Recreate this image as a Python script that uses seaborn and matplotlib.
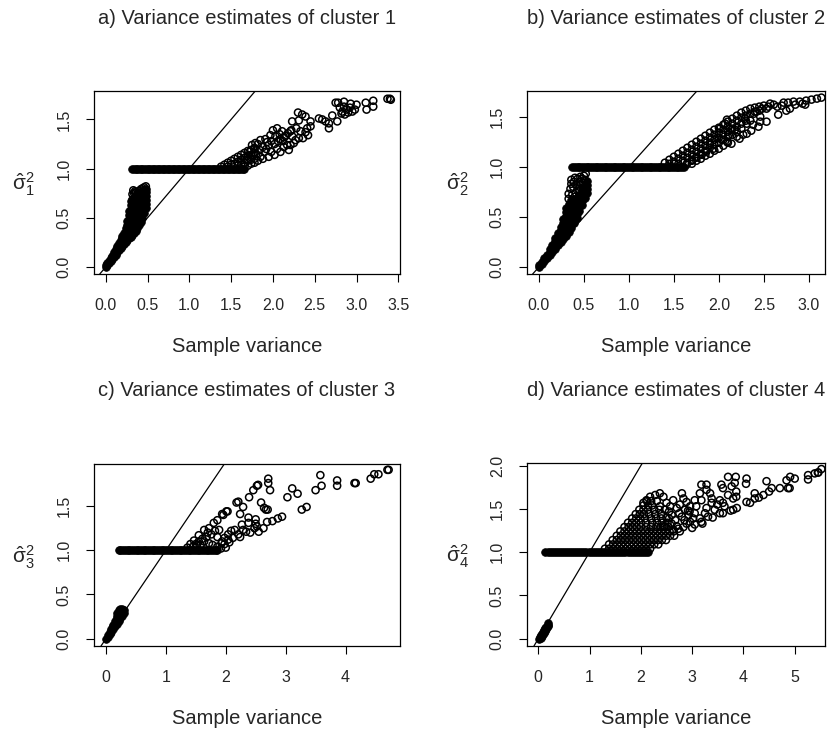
import matplotlib
matplotlib.use("Agg")
import matplotlib.pyplot as plt
import seaborn as sns
import pandas as pd

# ---- panel a (cluster 1) ----
a_low_x = [0.00, 0.02, 0.04, 0.06, 0.08, 0.10, 0.12, 0.14, 0.16, 0.18, 0.20, 0.22, 0.24,
           0.26, 0.28, 0.30, 0.32, 0.34, 0.36, 0.38, 0.40, 0.42, 0.44, 0.46, 0.48]
a_low_y = [[0.00, 0.02], [0.02, 0.04], [0.04, 0.06], [0.06, 0.09], [0.08, 0.11],
           [0.10, 0.13, 0.15], [0.12, 0.15, 0.18], [0.15, 0.18, 0.21], [0.17, 0.21, 0.24],
           [0.19, 0.23, 0.27], [0.21, 0.25, 0.29, 0.32], [0.23, 0.27, 0.31, 0.35],
           [0.25, 0.29, 0.33, 0.37, 0.40], [0.27, 0.31, 0.35, 0.39, 0.43, 0.47],
           [0.29, 0.33, 0.37, 0.41, 0.45, 0.49, 0.53, 0.57],
           [0.31, 0.35, 0.39, 0.43, 0.47, 0.51, 0.55, 0.59, 0.63, 0.67],
           [0.33, 0.37, 0.41, 0.45, 0.49, 0.53, 0.57, 0.61, 0.65, 0.69],
           [0.35, 0.39, 0.43, 0.47, 0.51, 0.55, 0.59, 0.63, 0.67, 0.71],
           [0.37, 0.41, 0.45, 0.49, 0.53, 0.57, 0.61, 0.65, 0.69, 0.73],
           [0.40, 0.44, 0.48, 0.52, 0.56, 0.60, 0.64, 0.68, 0.72],
           [0.43, 0.47, 0.51, 0.55, 0.59, 0.63, 0.67, 0.71, 0.75],
           [0.46, 0.50, 0.54, 0.58, 0.62, 0.66, 0.70, 0.74],
           [0.50, 0.54, 0.58, 0.62, 0.66, 0.70, 0.74, 0.77],
           [0.55, 0.59, 0.63, 0.67, 0.71, 0.75, 0.78],
           [0.60, 0.64, 0.68, 0.72, 0.76, 0.79]]
a_low_fringe = [(0.32, 0.74), (0.33, 0.78), (0.35, 0.77), (0.34, 0.75), (0.36, 0.76), (0.38, 0.75),
                (0.40, 0.77), (0.42, 0.79), (0.44, 0.80), (0.46, 0.81), (0.48, 0.82), (0.47, 0.78)]
a_flat_x = [0.32, 0.34, 0.36, 0.38, 0.40, 0.42, 0.44, 0.46, 0.48, 0.50, 0.52, 0.54, 0.56,
            0.58, 0.60, 0.62, 0.64, 0.66, 0.68, 0.70, 0.72, 0.74, 0.76, 0.78, 0.80, 0.82,
            0.84, 0.86, 0.88, 0.90, 0.92, 0.94, 0.96, 0.98, 1.00, 1.02, 1.04, 1.06, 1.08,
            1.10, 1.12, 1.14, 1.16, 1.18, 1.20, 1.22, 1.24, 1.26, 1.28, 1.30, 1.32, 1.34,
            1.36, 1.38, 1.40, 1.42, 1.44, 1.46, 1.48, 1.50, 1.52, 1.54, 1.56, 1.58, 1.60,
            1.62, 1.64, 1.66]
a_wedge_x = [1.38, 1.42, 1.46, 1.50, 1.54, 1.58, 1.62, 1.66, 1.70, 1.74, 1.78]
a_wedge_y = [[1.02], [1.04], [1.06, 1.02], [1.08, 1.04], [1.10, 1.05], [1.12, 1.07, 1.03],
             [1.14, 1.09, 1.04], [1.16, 1.11, 1.06, 1.02], [1.18, 1.13, 1.08, 1.03],
             [1.19, 1.14, 1.09, 1.05], [1.21, 1.16, 1.10, 1.06]]
a_tail = [(1.82, 1.25), (1.85, 1.29), (1.79, 1.26), (1.75, 1.24), (1.91, 1.30), (1.93, 1.27),
          (1.97, 1.34), (2.00, 1.39), (2.05, 1.41), (2.11, 1.38), (2.13, 1.32), (2.09, 1.30),
          (2.17, 1.24), (2.25, 1.26), (2.19, 1.19), (2.13, 1.22), (2.05, 1.20), (1.98, 1.17),
          (2.09, 1.17), (1.90, 1.17), (1.85, 1.12), (1.76, 1.14), (1.69, 1.09), (1.82, 1.08),
          (1.88, 1.10), (1.95, 1.12), (2.02, 1.14), (1.72, 1.17), (1.78, 1.20), (1.80, 1.15),
          (1.84, 1.19), (1.88, 1.22), (1.92, 1.20), (1.95, 1.24), (1.98, 1.28), (2.02, 1.25),
          (2.06, 1.28), (2.03, 1.33), (2.08, 1.35), (2.12, 1.28), (2.15, 1.33), (2.18, 1.36),
          (2.23, 1.33), (2.21, 1.38), (2.22, 1.39), (2.23, 1.48), (2.28, 1.41), (2.31, 1.49),
          (2.30, 1.57), (2.35, 1.55), (2.36, 1.31), (2.39, 1.53), (2.39, 1.37), (2.41, 1.41),
          (2.45, 1.48), (2.45, 1.43), (2.27, 1.29), (2.31, 1.31), (2.21, 1.24), (2.33, 1.38),
          (2.42, 1.34), (2.55, 1.51), (2.59, 1.50), (2.63, 1.48), (2.67, 1.46), (2.67, 1.41),
          (2.71, 1.54), (2.77, 1.48), (2.75, 1.67), (2.78, 1.67), (2.85, 1.68), (2.93, 1.66),
          (3.00, 1.65), (2.80, 1.62), (2.83, 1.58), (2.86, 1.55), (2.88, 1.60), (2.90, 1.57),
          (2.92, 1.62), (2.95, 1.58), (2.85, 1.63), (2.98, 1.60), (2.82, 1.56), (3.11, 1.67),
          (3.12, 1.60), (3.20, 1.69), (3.20, 1.63), (3.37, 1.71), (3.40, 1.71), (3.41, 1.70)]

# ---- panel b (cluster 2) ----
b_low_x = [0.00, 0.03, 0.06, 0.09, 0.12, 0.15, 0.18, 0.21, 0.24, 0.27, 0.30, 0.33, 0.36,
           0.39, 0.42, 0.45, 0.48, 0.51, 0.53]
b_low_y = [[0.00, 0.02], [0.03, 0.05], [0.06, 0.09], [0.09, 0.12], [0.12, 0.15, 0.18],
           [0.15, 0.19, 0.22], [0.18, 0.22, 0.26, 0.29], [0.22, 0.26, 0.30, 0.34],
           [0.25, 0.29, 0.33, 0.37, 0.40], [0.28, 0.32, 0.36, 0.40, 0.44, 0.48],
           [0.31, 0.35, 0.39, 0.43, 0.47, 0.51, 0.55, 0.59],
           [0.35, 0.39, 0.43, 0.47, 0.51, 0.55, 0.59, 0.63],
           [0.39, 0.43, 0.47, 0.51, 0.55, 0.59, 0.63, 0.67],
           [0.44, 0.48, 0.52, 0.56, 0.60, 0.64, 0.68],
           [0.49, 0.53, 0.57, 0.61, 0.65, 0.69],
           [0.56, 0.60, 0.64, 0.68, 0.72],
           [0.62, 0.66, 0.70, 0.74, 0.78],
           [0.69, 0.73, 0.77, 0.81], [0.74, 0.78, 0.82, 0.86]]
b_low_fringe = [(0.33, 0.68), (0.33, 0.73), (0.35, 0.78), (0.36, 0.83), (0.36, 0.87), (0.37, 0.72),
                (0.38, 0.80), (0.39, 0.85), (0.40, 0.89), (0.41, 0.74), (0.42, 0.82), (0.43, 0.88),
                (0.44, 0.78), (0.45, 0.85), (0.46, 0.90), (0.47, 0.82), (0.48, 0.88), (0.49, 0.84),
                (0.50, 0.91), (0.51, 0.87), (0.52, 0.93), (0.40, 0.70), (0.45, 0.76), (0.50, 0.80)]
b_flat_x = [0.37, 0.39, 0.41, 0.43, 0.45, 0.47, 0.49, 0.51, 0.53, 0.55, 0.57, 0.59, 0.61,
            0.63, 0.65, 0.67, 0.69, 0.71, 0.73, 0.75, 0.77, 0.79, 0.81, 0.83, 0.85, 0.87,
            0.89, 0.91, 0.93, 0.95, 0.97, 0.99, 1.01, 1.03, 1.05, 1.07, 1.09, 1.11, 1.13,
            1.15, 1.17, 1.19, 1.21, 1.23, 1.25, 1.27, 1.29, 1.31, 1.33, 1.35, 1.37, 1.39,
            1.41, 1.43, 1.45, 1.47, 1.49, 1.51, 1.53, 1.55, 1.57, 1.59, 1.61]
b_wedge_x = [1.40, 1.45, 1.50, 1.55, 1.60, 1.65, 1.70, 1.75, 1.80, 1.85, 1.90, 1.95, 2.00,
             2.05, 2.10, 2.15, 2.20, 2.25, 2.30, 2.35, 2.40, 2.45, 2.50]
b_wedge_y = [[1.04], [1.07, 1.03], [1.10, 1.05], [1.13, 1.08, 1.03], [1.16, 1.11, 1.06],
             [1.19, 1.14, 1.09, 1.04], [1.22, 1.17, 1.12, 1.07, 1.03],
             [1.25, 1.20, 1.15, 1.10, 1.06], [1.28, 1.23, 1.18, 1.13, 1.08],
             [1.31, 1.26, 1.21, 1.16, 1.11], [1.34, 1.29, 1.24, 1.19, 1.13],
             [1.37, 1.32, 1.27, 1.22, 1.16], [1.39, 1.34, 1.29, 1.24, 1.18],
             [1.42, 1.37, 1.32, 1.27, 1.21], [1.45, 1.40, 1.35, 1.30, 1.24],
             [1.48, 1.43, 1.38, 1.32], [1.51, 1.46, 1.40, 1.35], [1.54, 1.49, 1.43],
             [1.56, 1.51, 1.46], [1.58, 1.53], [1.59, 1.55], [1.60, 1.56], [1.61]]
b_tail = [(3.14, 1.69), (3.09, 1.68), (3.03, 1.67), (2.97, 1.66), (2.96, 1.62), (2.90, 1.65),
          (2.83, 1.65), (2.77, 1.64), (2.72, 1.64), (2.66, 1.52), (2.75, 1.56), (2.79, 1.58),
          (2.61, 1.62), (2.57, 1.63), (2.53, 1.58), (2.48, 1.58), (2.53, 1.45), (2.46, 1.45),
          (2.44, 1.40), (2.31, 1.43), (2.27, 1.32), (2.31, 1.33), (2.23, 1.28), (2.14, 1.23),
          (2.09, 1.25), (2.18, 1.37), (2.29, 1.48), (2.39, 1.53), (2.35, 1.46), (2.42, 1.55),
          (2.46, 1.50), (2.20, 1.30), (2.11, 1.32), (2.03, 1.27), (2.01, 1.38), (2.07, 1.43),
          (1.94, 1.18), (1.90, 1.22), (1.86, 1.15), (1.81, 1.12), (1.75, 1.09), (1.70, 1.06),
          (1.64, 1.02), (1.98, 1.29), (2.14, 1.37), (2.09, 1.47), (2.55, 1.60), (2.65, 1.60),
          (2.70, 1.61), (2.85, 1.62), (2.93, 1.63), (2.38, 1.42), (2.25, 1.38), (2.36, 1.36)]

# ---- panel c (cluster 3) ----
c_low_x = [0.00, 0.03, 0.06, 0.09, 0.12, 0.15, 0.18, 0.21, 0.24, 0.27, 0.30]
c_low_y = [[0.00], [0.02, 0.04], [0.05, 0.08], [0.08, 0.11], [0.11, 0.14, 0.16],
           [0.14, 0.17, 0.20], [0.17, 0.20, 0.23, 0.26, 0.29], [0.20, 0.23, 0.26, 0.29, 0.32],
           [0.23, 0.26, 0.29, 0.32, 0.34], [0.26, 0.29, 0.32, 0.34], [0.29, 0.32]]
c_flat_x = [0.21, 0.24, 0.27, 0.30, 0.33, 0.36, 0.39, 0.42, 0.45, 0.48, 0.51, 0.54, 0.57,
            0.60, 0.63, 0.66, 0.69, 0.72, 0.75, 0.78, 0.81, 0.84, 0.87, 0.90, 0.93, 0.96,
            0.99, 1.02, 1.05, 1.08, 1.11, 1.14, 1.17, 1.20, 1.23, 1.26, 1.29, 1.32, 1.35,
            1.38, 1.41, 1.44, 1.47, 1.50, 1.53, 1.56, 1.59, 1.62, 1.65, 1.68, 1.71, 1.74,
            1.77, 1.80, 1.83, 1.86]
c_tail = [(1.36, 1.03), (1.41, 1.07), (1.47, 1.11), (1.55, 1.17), (1.64, 1.23), (1.72, 1.25),
          (1.80, 1.31), (1.86, 1.34), (1.94, 1.41), (2.03, 1.44), (1.45, 1.04), (1.52, 1.06),
          (1.58, 1.06), (1.64, 1.10), (1.72, 1.08), (1.78, 1.06), (1.86, 1.04), (1.86, 1.15),
          (1.89, 1.23), (1.94, 1.10), (2.00, 1.03), (2.04, 1.12), (2.09, 1.22), (1.55, 1.10),
          (1.68, 1.15), (1.76, 1.18), (1.82, 1.22), (1.92, 1.02), (1.98, 1.07), (1.50, 1.07),
          (1.61, 1.13), (1.70, 1.20), (4.70, 1.91), (4.72, 1.91), (4.55, 1.86), (4.48, 1.86),
          (4.42, 1.81), (4.15, 1.76), (4.17, 1.76), (3.86, 1.79), (3.86, 1.73), (3.58, 1.85),
          (3.60, 1.73), (3.50, 1.68), (3.35, 1.49), (3.27, 1.46), (3.20, 1.64), (3.11, 1.70),
          (3.03, 1.60), (2.94, 1.38), (2.87, 1.36), (2.78, 1.33), (2.69, 1.32), (2.63, 1.25),
          (2.71, 1.81), (2.71, 1.76), (2.74, 1.68), (2.54, 1.74), (2.52, 1.73), (2.46, 1.68),
          (2.39, 1.60), (2.59, 1.54), (2.64, 1.48), (2.67, 1.46), (2.70, 1.46), (2.21, 1.55),
          (2.18, 1.54), (2.29, 1.49), (2.01, 1.44), (1.96, 1.40), (2.24, 1.41), (2.38, 1.37),
          (2.50, 1.35), (2.50, 1.30), (2.48, 1.25), (2.38, 1.31), (2.27, 1.29), (2.29, 1.23),
          (2.34, 1.21), (2.41, 1.20), (2.55, 1.21), (2.52, 1.27), (2.15, 1.23), (2.21, 1.18),
          (2.24, 1.15), (2.12, 1.14), (2.04, 1.18), (1.98, 1.14), (1.93, 1.08), (2.06, 1.09)]

# ---- panel d (cluster 4) ----
d_low = [(0.02, 0.00), (0.04, 0.02), (0.06, 0.04), (0.08, 0.06), (0.10, 0.08), (0.12, 0.10),
         (0.14, 0.12), (0.16, 0.14), (0.18, 0.16), (0.18, 0.18), (0.05, 0.01), (0.07, 0.03),
         (0.09, 0.05), (0.11, 0.07), (0.13, 0.09), (0.15, 0.11), (0.17, 0.13), (0.19, 0.15)]
d_flat_x = [0.14, 0.18, 0.22, 0.26, 0.30, 0.34, 0.38, 0.42, 0.46, 0.50, 0.54, 0.58, 0.62,
            0.66, 0.70, 0.74, 0.78, 0.82, 0.86, 0.90, 0.94, 0.98, 1.02, 1.06, 1.10, 1.14,
            1.18, 1.22, 1.26, 1.30, 1.34, 1.38, 1.42, 1.46, 1.50, 1.54, 1.58, 1.62, 1.66,
            1.70, 1.74, 1.78, 1.82, 1.86, 1.90, 1.94, 1.98, 2.02, 2.06, 2.10, 2.13]
d_rows_y = [1.04, 1.09, 1.14, 1.19, 1.24, 1.29, 1.34, 1.39, 1.44, 1.49, 1.54, 1.59]
d_rows_x = [[1.30, 1.38, 1.46, 1.54, 1.62, 1.70, 1.78, 1.86, 1.94, 2.02, 2.10, 2.18],
            [1.38, 1.46, 1.54, 1.62, 1.70, 1.78, 1.86, 1.94, 2.02, 2.10, 2.18, 2.26, 2.34],
            [1.45, 1.53, 1.61, 1.69, 1.77, 1.85, 1.93, 2.01, 2.09, 2.17, 2.25, 2.33, 2.41, 2.49],
            [1.53, 1.61, 1.69, 1.77, 1.85, 1.93, 2.01, 2.09, 2.17, 2.25, 2.33, 2.41, 2.49, 2.57, 2.65],
            [1.60, 1.68, 1.76, 1.84, 1.92, 2.00, 2.08, 2.16, 2.24, 2.32, 2.40, 2.48, 2.56, 2.64],
            [1.68, 1.76, 1.84, 1.92, 2.00, 2.10, 2.20, 2.30, 2.38, 2.46, 2.54],
            [1.75, 1.83, 1.91, 2.00, 2.10, 2.22, 2.32, 2.42, 2.52],
            [1.83, 1.91, 1.99, 2.08, 2.20, 2.30, 2.40, 2.55],
            [1.90, 1.98, 2.06, 2.16, 2.28, 2.40],
            [1.97, 2.05, 2.14, 2.26, 2.36],
            [2.05, 2.14, 2.22],
            [2.12, 2.20]]
d_tail = [(5.52, 1.96), (5.46, 1.92), (5.39, 1.91), (5.26, 1.89), (5.26, 1.84), (5.00, 1.85),
          (4.91, 1.87), (4.84, 1.83), (4.87, 1.74), (4.71, 1.74), (4.55, 1.74), (4.45, 1.82),
          (4.39, 1.66), (4.22, 1.68), (4.22, 1.62), (4.13, 1.57), (4.06, 1.58), (4.06, 1.85),
          (4.05, 1.79), (3.70, 1.87), (3.85, 1.87), (3.83, 1.80), (3.77, 1.76), (3.86, 1.70),
          (3.86, 1.64), (3.80, 1.62), (3.70, 1.66), (3.57, 1.78), (3.60, 1.74), (3.54, 1.60),
          (3.60, 1.57), (3.63, 1.53), (3.49, 1.55), (3.54, 1.45), (3.87, 1.51), (3.80, 1.49),
          (3.44, 1.49), (3.35, 1.68), (3.38, 1.62), (3.28, 1.72), (3.18, 1.78), (3.28, 1.78),
          (3.15, 1.68), (3.18, 1.60), (3.05, 1.60), (3.08, 1.53), (3.28, 1.51), (3.38, 1.57),
          (3.25, 1.45), (3.31, 1.41), (3.15, 1.39), (3.18, 1.35), (3.05, 1.45), (2.96, 1.53),
          (3.02, 1.39), (2.80, 1.68), (2.83, 1.62), (2.89, 1.58), (2.76, 1.55), (2.70, 1.51),
          (2.63, 1.60), (2.57, 1.53), (2.86, 1.49), (2.93, 1.43), (2.80, 1.41), (2.96, 1.35),
          (2.89, 1.33), (2.83, 1.29), (2.73, 1.27), (3.05, 1.32), (2.37, 1.68), (2.28, 1.66),
          (2.18, 1.64), (2.11, 1.60), (2.05, 1.57), (2.44, 1.64), (2.50, 1.57), (2.47, 1.49),
          (2.37, 1.53), (2.31, 1.59), (2.60, 1.43), (2.67, 1.37), (2.60, 1.33), (2.70, 1.30),
          (2.76, 1.24), (2.63, 1.26), (2.95, 1.47), (2.92, 1.48), (3.00, 1.28), (3.20, 1.33),
          (3.40, 1.40), (3.60, 1.45), (3.75, 1.48), (4.30, 1.63), (4.50, 1.70), (4.90, 1.74),
          (5.45, 1.92), (2.55, 1.47), (2.75, 1.45), (2.85, 1.37), (2.50, 1.40), (2.45, 1.30)]


def cols_to_df(xs, ys):
    rows = []
    for x, yl in zip(xs, ys):
        for y in yl:
            rows.append((x, y))
    return pd.DataFrame(rows, columns=["x", "y"])


def rows_to_df(ys, xs):
    rows = []
    for y, xl in zip(ys, xs):
        for x in xl:
            rows.append((x, y))
    return pd.DataFrame(rows, columns=["x", "y"])


def flat_df(xs):
    return pd.DataFrame({"x": xs, "y": [1.0] * len(xs)})


def pairs_df(p):
    return pd.DataFrame(p, columns=["x", "y"])


def stack(*parts):
    return pd.concat(parts, ignore_index=True)


# heavily overplotted parts (look solid) and open-circle parts
solid = [
    stack(cols_to_df(a_low_x, a_low_y), flat_df(a_flat_x)),
    stack(cols_to_df(b_low_x, b_low_y), flat_df(b_flat_x)),
    stack(cols_to_df(c_low_x, c_low_y), flat_df(c_flat_x)),
    stack(pairs_df(d_low), flat_df(d_flat_x)),
]
open_pts = [
    stack(pairs_df(a_low_fringe), cols_to_df(a_wedge_x, a_wedge_y), pairs_df(a_tail)),
    stack(pairs_df(b_low_fringe), cols_to_df(b_wedge_x, b_wedge_y), pairs_df(b_tail)),
    stack(pairs_df(c_tail)),
    stack(rows_to_df(d_rows_y, d_rows_x), pairs_df(d_tail)),
]

panels = [
    ("a) Variance estimates of cluster 1", r"$\hat{\sigma}_1^2$",
     (-0.14, 3.52), (-0.071, 1.789), [0, 0.5, 1.0, 1.5, 2.0, 2.5, 3.0, 3.5], [0, 0.5, 1.0, 1.5], "{:.1f}"),
    ("b) Variance estimates of cluster 2", r"$\hat{\sigma}_2^2$",
     (-0.133, 3.18), (-0.07, 1.756), [0, 0.5, 1.0, 1.5, 2.0, 2.5, 3.0], [0, 0.5, 1.0, 1.5], "{:.1f}"),
    ("c) Variance estimates of cluster 3", r"$\hat{\sigma}_3^2$",
     (-0.2, 4.91), (-0.083, 1.976), [0, 1, 2, 3, 4], [0, 0.5, 1.0, 1.5], "{:.0f}"),
    ("d) Variance estimates of cluster 4", r"$\hat{\sigma}_4^2$",
     (-0.22, 5.59), (-0.084, 2.03), [0, 1, 2, 3, 4, 5], [0, 0.5, 1.0, 1.5, 2.0], "{:.0f}"),
]

W, H = 837, 733
boxes = [(94, 91, 400, 274), (527, 91, 825, 274), (94, 464, 400, 646), (527, 463, 825, 646)]
ylab_x = [23, 457, 23, 457]

sns.set_style("white")
plt.rcParams["font.family"] = ["Liberation Sans", "DejaVu Sans"]
plt.rcParams["mathtext.fontset"] = "custom"
plt.rcParams["mathtext.rm"] = "Liberation Sans"
plt.rcParams["mathtext.it"] = "Liberation Sans"

fig = plt.figure(figsize=(W / 100, H / 100), dpi=100)

for i, (title, ylab, xlim, ylim, xt, yt, fmt) in enumerate(panels):
    x0, y0, x1, y1 = boxes[i]
    ax = fig.add_axes([x0 / W, 1 - y1 / H, (x1 - x0) / W, (y1 - y0) / H])
    sns.scatterplot(data=solid[i], x="x", y="y", ax=ax, marker="o", s=30,
                    color="black", edgecolor="black", linewidth=0.6)
    sns.scatterplot(data=open_pts[i], x="x", y="y", ax=ax, marker="o", s=26,
                    facecolor="none", edgecolor="black", linewidth=1.1)
    ax.axline((0, 0), slope=1, color="black", lw=0.9)
    ax.set_xlim(*xlim)
    ax.set_ylim(*ylim)
    ax.set_xticks(xt)
    ax.set_xticklabels([fmt.format(v) for v in xt])
    ax.set_yticks(yt)
    ax.set_yticklabels(["{:.1f}".format(v) for v in yt], rotation=90, va="center")
    ax.tick_params(direction="out", length=6, width=0.8, color="black",
                   labelsize=11.5, bottom=True, left=True)
    ax.tick_params(axis="x", pad=11)
    ax.tick_params(axis="y", pad=10)
    for sp in ax.spines.values():
        sp.set_visible(True)
        sp.set_color("black")
        sp.set_linewidth(0.9)
    ax.set_xlabel("")
    ax.set_ylabel("")
    cx = (x0 + x1) / 2
    fig.text(cx / W, 1 - (y0 - 73) / H, title, ha="center", va="center", fontsize=14.5)
    fig.text(cx / W, 1 - (y1 + 72) / H, "Sample variance", ha="center", va="center", fontsize=14.5)
    fig.text(ylab_x[i] / W, 1 - ((y0 + y1) / 2 + 2) / H, ylab, ha="center", va="center", fontsize=15)

fig.savefig("out.png", dpi=100)
